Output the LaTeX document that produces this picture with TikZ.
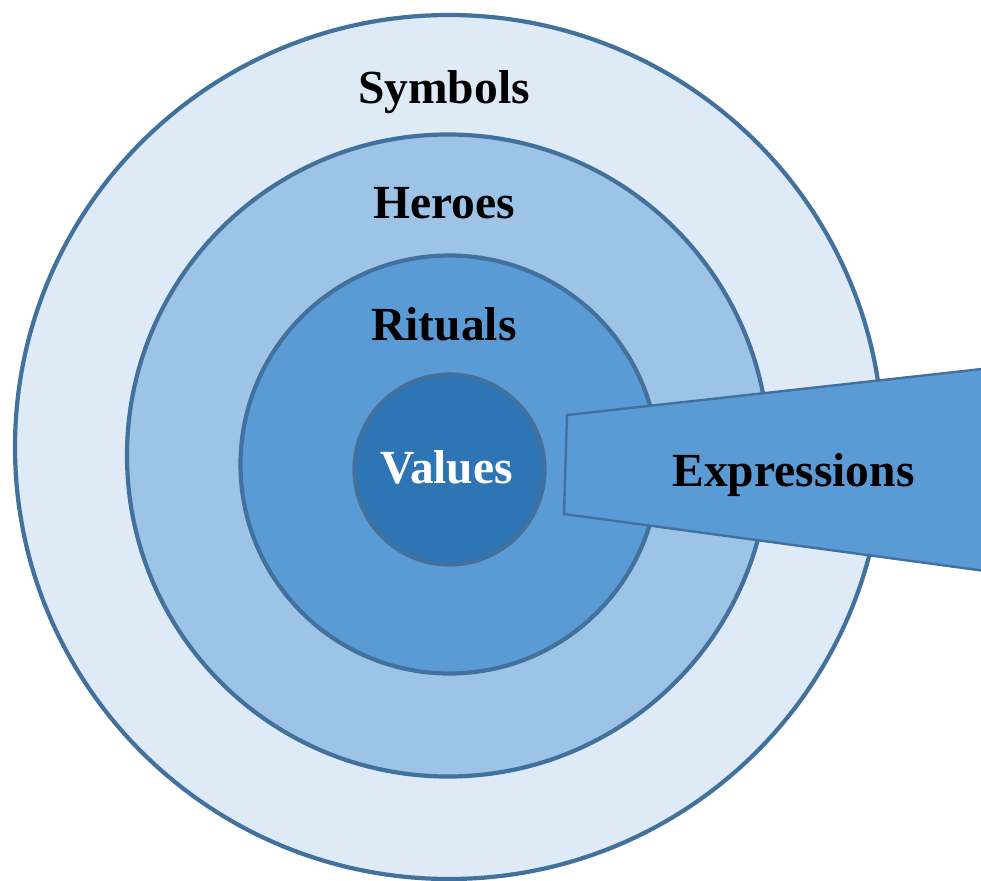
\documentclass[tikz,border=0pt]{standalone}
\usepackage{fontspec}
\setmainfont{Liberation Serif}
\definecolor{ringline}{HTML}{41719C}
\definecolor{ringA}{HTML}{DEEAF6}
\definecolor{ringB}{HTML}{9DC3E6}
\definecolor{ringC}{HTML}{5B9BD5}
\definecolor{ringD}{HTML}{2E75B6}
\tikzset{
  ring/.style={draw=ringline, line width=4.2pt},
  label/.style={font=\fontsize{47.5pt}{50pt}\selectfont\bfseries, inner sep=0pt, anchor=base},
}
\begin{document}
\begin{tikzpicture}[x=1pt, y=-1pt]
\useasboundingbox (0,0) rectangle (981,880);
\clip (0,0) rectangle (981,880);
% nested layers of the onion
\draw[ring, fill=ringA] (449,447) ellipse [x radius=434, y radius=432];
\draw[ring, fill=ringB] (448,455.5) circle [radius=321];
\draw[ring, fill=ringC] (449.5,464.5) circle [radius=209];
\draw[ring, fill=ringD] (449.5,469.5) circle [radius=95];
% callout band
\draw[draw=ringline, line width=2.4pt, fill=ringC, line join=miter]
  (567,415) -- (1000,367) -- (1000,573) -- (564,514) -- cycle;
% layer labels
\node[label] (symbols) at (444,103) {Symbols};
\node[label] (heroes) at (444,218) {Heroes};
\node[label] (rituals) at (444,340) {Rituals};
\node[label, text=white] (values) at (446.5,483) {Values};
\node[label] (expressions) at (793.5,486) {Expressions};
\end{tikzpicture}
\end{document}
